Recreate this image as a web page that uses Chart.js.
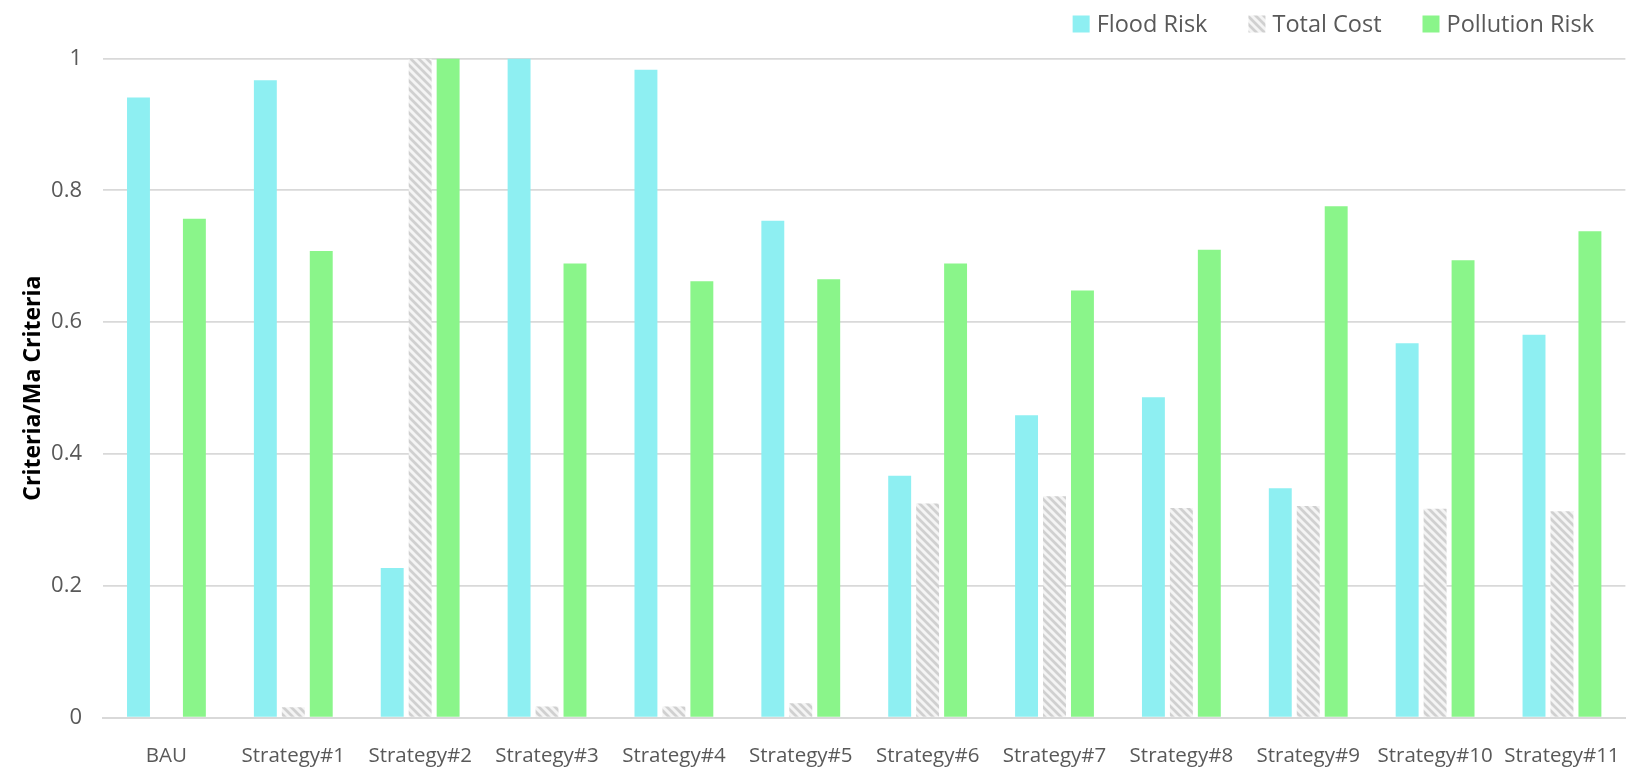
<!DOCTYPE html>
<html>
<head>
<meta charset="utf-8">
<script src="https://cdn.jsdelivr.net/npm/chart.js@4/dist/chart.umd.min.js"></script>
<style>
    html, body { margin: 0; padding: 0; background: #fff; }
    #box { width: 1638px; height: 776px; }
</style>
</head>
<body>
<div id="box"><canvas id="critChart" width="1638" height="776"></canvas></div>
<script>
// categories and normalised criteria values
const strategies = ['BAU', 'Strategy#1', 'Strategy#2', 'Strategy#3', 'Strategy#4', 'Strategy#5',
    'Strategy#6', 'Strategy#7', 'Strategy#8', 'Strategy#9', 'Strategy#10', 'Strategy#11'];
const floodRisk = [0.941, 0.967, 0.227, 1.0, 0.983, 0.754, 0.367, 0.459, 0.486, 0.348, 0.568, 0.581];
const totalCost = [0, 0.016, 1.0, 0.017, 0.017, 0.022, 0.325, 0.336, 0.318, 0.321, 0.317, 0.313];
const pollutionRisk = [0.757, 0.708, 1.0, 0.689, 0.662, 0.665, 0.689, 0.648, 0.710, 0.776, 0.694, 0.738];
const yTicks = [0, 0.2, 0.4, 0.6, 0.8, 1];

const textColor = '#595959';
const gridColor = '#d9d9d9';
const baseFont = '"Open Sans", sans-serif';

// diagonal hatch used for the cost series
function makeHatch() {
    const c = document.createElement('canvas');
    c.width = 8;
    c.height = 8;
    const g = c.getContext('2d');
    g.fillStyle = '#f4f4f4';
    g.fillRect(0, 0, 8, 8);
    g.strokeStyle = '#d0d0d0';
    g.lineWidth = 2.8;
    g.beginPath();
    g.moveTo(-2, -2); g.lineTo(10, 10);
    g.moveTo(-6, 2); g.lineTo(2, 10);
    g.moveTo(6, -2); g.lineTo(14, 6);
    g.stroke();
    return g.createPattern(c, 'repeat');
}
const hatch = makeHatch();

// legend drawn along the top right
const topLegend = {
    id: 'topLegend',
    afterDraw(chart) {
        const ctx = chart.ctx;
        ctx.save();
        ctx.font = '23.5px ' + baseFont;
        ctx.textBaseline = 'middle';
        const box = 17, gap = 7, spacing = 41, yMid = 24;
        const sets = chart.data.datasets;
        let x = 1594;
        const pos = [];
        for (let i = sets.length - 1; i >= 0; i--) {
            const w = ctx.measureText(sets[i].label).width;
            const textX = x - w;
            const boxX = textX - gap - box;
            pos[i] = { boxX, textX };
            x = boxX - spacing;
        }
        sets.forEach((ds, i) => {
            ctx.fillStyle = ds.backgroundColor;
            ctx.fillRect(pos[i].boxX, yMid - box / 2, box, box);
            ctx.fillStyle = textColor;
            ctx.fillText(ds.label, pos[i].textX, yMid + 1);
        });
        ctx.restore();
    }
};

const ctx = document.getElementById('critChart').getContext('2d');
new Chart(ctx, {
    type: 'bar',
    data: {
        labels: strategies,
        datasets: [
            { label: 'Flood Risk', data: floodRisk, backgroundColor: '#8eeff2' },
            { label: 'Total Cost', data: totalCost, backgroundColor: hatch },
            { label: 'Pollution Risk', data: pollutionRisk, backgroundColor: '#8af58a' },
        ],
    },
    options: {
        responsive: false,
        animation: false,
        categoryPercentage: 0.661,
        barPercentage: 0.82,
        layout: { padding: { top: 58.5, right: 10, left: 0, bottom: 0 } },
        plugins: {
            legend: { display: false },
            tooltip: { enabled: false },
        },
        scales: {
            x: {
                grid: { display: false },
                border: { display: true, color: gridColor, width: 2 },
                ticks: {
                    color: textColor,
                    font: { family: baseFont, size: 20.5 },
                    padding: 18,
                    maxRotation: 0,
                    autoSkip: false,
                },
                afterFit: scale => { scale.height = 58.3; },
            },
            y: {
                min: 0,
                max: 1,
                afterBuildTicks: scale => { scale.ticks = yTicks.map(v => ({ value: v })); },
                grid: { color: gridColor, lineWidth: 1.8, drawTicks: false },
                border: { display: false },
                ticks: {
                    color: textColor,
                    font: { family: baseFont, size: 22 },
                    padding: 21,
                    callback: v => String(v),
                },
                title: {
                    display: true,
                    text: 'Criteria/Ma Criteria',
                    color: '#000',
                    font: { family: baseFont, size: 23, weight: 'bold' },
                    padding: { top: 20, bottom: 0 },
                },
                afterFit: scale => { scale.width = 103; },
            },
        },
    },
    plugins: [topLegend],
});
</script>
</body>
</html>
